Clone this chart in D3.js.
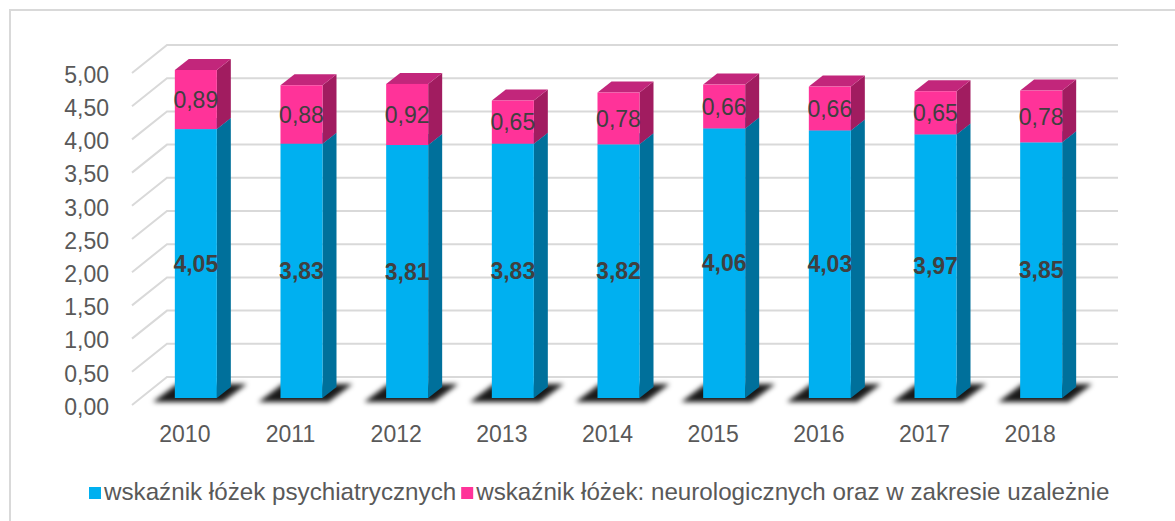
<!DOCTYPE html>
<html>
<head>
<meta charset="utf-8">
<script src="https://cdn.jsdelivr.net/npm/d3@7"></script>
<style>
  html, body { margin: 0; padding: 0; background: #fff; }
  svg { display: block; font-family: "Liberation Sans", Arial, sans-serif; }
</style>
</head>
<body>
<svg id="chart" width="1175" height="521"></svg>
<script>
const years = ["2010","2011","2012","2013","2014","2015","2016","2017","2018"];
const psych = [4.05, 3.83, 3.81, 3.83, 3.82, 4.06, 4.03, 3.97, 3.85];
const neuro = [0.89, 0.88, 0.92, 0.65, 0.78, 0.66, 0.66, 0.65, 0.78];
const seriesNames = ["wskaźnik łóżek psychiatrycznych", "wskaźnik łóżek: neurologicznych oraz w zakresie uzależnie"];
const yTicks = [0, 0.5, 1, 1.5, 2, 2.5, 3, 3.5, 4, 4.5, 5];

const colors = {
  psych: { front: "#00B0F0", side: "#00709B", top: "#0090C4" },
  neuro: { front: "#FF3399", side: "#A11C60", top: "#C2267B" }
};

const svg = d3.select("#chart");
const locale = d3.formatLocale({ decimal: ",", thousands: " ", grouping: [3], currency: ["", ""] });
const fmt = locale.format(".2f");

const x = d3.scaleBand().domain(years).range([132, 1083]).padding(0);
const y = d3.scaleLinear().domain([0, 5]).range([405, 73]);

const depthX = 35, depthY = -28;         // full floor depth
const barOffX = 0, barOffY = -7;          // bar front plane offset
const barDX = 14, barDY = -11;            // bar depth
const barW = 42;

// outer border
svg.append("path").attr("d", "M10,521 L10,10 L1175,10")
  .attr("fill", "none").attr("stroke", "#D9D9D9").attr("stroke-width", 2);

// defs for shadow blur
const defs = svg.append("defs");
defs.append("filter").attr("id", "blur").attr("x", "-50%").attr("y", "-50%").attr("width", "200%").attr("height", "200%")
  .append("feGaussianBlur").attr("stdDeviation", 2.8);

// gridlines: left wall diagonals and back wall
const grid = svg.append("g").attr("stroke", "#D9D9D9").attr("stroke-width", 2).attr("fill", "none");
yTicks.forEach(t => {
  const yf = y(t);
  grid.append("path").attr("d", `M${x.range()[0]},${yf} L${x.range()[0] + depthX},${yf + depthY} L${x.range()[1] + depthX},${yf + depthY}`);
});

// y axis labels
const yAxis = d3.axisLeft(y).tickValues(yTicks).tickFormat(fmt).tickSize(0).tickPadding(0);
const gy = svg.append("g").attr("transform", "translate(109,2)").call(yAxis);
gy.select(".domain").remove();
gy.selectAll("text").attr("font-size", 23).attr("fill", "#595959").attr("font-family", "Liberation Sans, Arial, sans-serif");

// x axis labels
const xAxis = d3.axisBottom(x).tickSize(0).tickPadding(0);
const gx = svg.append("g").attr("transform", "translate(0,426)").call(xAxis);
gx.select(".domain").remove();
gx.selectAll("text").attr("font-size", 23).attr("fill", "#595959").attr("font-family", "Liberation Sans, Arial, sans-serif");

// data table
const table = years.map((yr, i) => ({ year: yr, psych: psych[i], neuro: neuro[i] }));
const stack = d3.stack().keys(["psych", "neuro"])(table);

// shadows
const shadows = svg.append("g").attr("filter", "url(#blur)");
table.forEach(d => {
  const bl = x(d.year) + x.bandwidth() / 2 - 10;
  const yb = y(0) - 3;
  const x0 = bl - 22, x1 = bl + barW + 6;
  shadows.append("path")
    .attr("d", `M${x0},${yb} L${x1},${yb} L${x1 + 24},${yb - 18} L${x0 + 24},${yb - 18} Z`)
    .attr("fill", "#000").attr("opacity", 0.9);
});

// bars
const bars = svg.append("g");
table.forEach((d, i) => {
  const bl = x(d.year) + x.bandwidth() / 2 - 10 + barOffX;
  const br = bl + barW;
  stack.forEach(s => {
    const seg = s[i];
    const c = colors[s.key];
    const yt = y(seg[1]) + barOffY, yb = y(seg[0]) + barOffY;
    const g = bars.append("g");
    g.append("path").attr("d", `M${br},${yb} L${br + barDX},${yb + barDY} L${br + barDX},${yt + barDY} L${br},${yt} Z`).attr("fill", c.side);
    g.append("path").attr("d", `M${bl},${yt} L${br},${yt} L${br + barDX},${yt + barDY} L${bl + barDX},${yt + barDY} Z`).attr("fill", c.top);
    g.append("rect").attr("x", bl).attr("y", yt).attr("width", barW).attr("height", yb - yt).attr("fill", c.front);
  });
});

// data labels
const labels = svg.append("g").attr("font-size", 23).attr("text-anchor", "middle");
table.forEach((d, i) => {
  const cx = x(d.year) + x.bandwidth() / 2 - 10 + barW / 2;
  const s0 = stack[0][i], s1 = stack[1][i];
  labels.append("text").attr("x", cx).attr("y", (y(s0[0]) + y(s0[1])) / 2 + barOffY)
    .attr("dy", "0.36em").attr("font-weight", "bold").attr("fill", "#404040").text(fmt(d.psych));
  labels.append("text").attr("x", cx).attr("y", (y(s1[0]) + y(s1[1])) / 2 + barOffY)
    .attr("dy", "0.36em").attr("fill", "#404040").text(fmt(d.neuro));
});

// legend
const leg = svg.append("g").attr("font-size", 24.2).attr("fill", "#595959");
let lx = 89;
[colors.psych.front, colors.neuro.front].forEach((col, k) => {
  leg.append("rect").attr("x", lx).attr("y", 487).attr("width", 12).attr("height", 12).attr("fill", col);
  const t = leg.append("text").attr("x", lx + 15).attr("y", 500).text(seriesNames[k]);
  lx = lx + 15 + t.node().getComputedTextLength() + 5;
});
</script>
</body>
</html>
